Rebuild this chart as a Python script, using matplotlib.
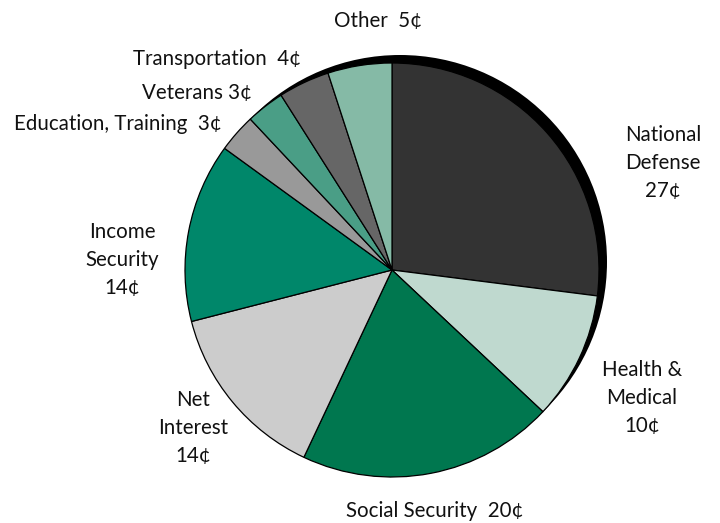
import matplotlib.pyplot as plt
from matplotlib.patches import Circle

# spending per dollar, clockwise from the top
categories = ["National Defense", "Health & Medical", "Social Security",
              "Net Interest", "Income Security", "Education, Training",
              "Veterans", "Transportation", "Other"]
cents = [27, 10, 20, 14, 14, 3, 3, 4, 5]
colors = ["#333333", "#bfd9cf", "#00774f", "#cccccc", "#00876a",
          "#999999", "#4a9e86", "#666666", "#85baa6"]

label_text = [
    "National\nDefense\n27¢",
    "Health &\nMedical\n10¢",
    "Social Security  20¢",
    "Net\nInterest\n14¢",
    "Income\nSecurity\n14¢",
    "Education, Training  3¢",
    "Veterans 3¢",
    "Transportation  4¢",
    "Other  5¢",
]
# label anchors in pixel space (x, y from top), alignment
label_pos = [
    (663, 163, "center"),
    (642, 398, "center"),
    (435, 511, "center"),
    (193, 428, "center"),
    (122, 260, "center"),
    (221, 124, "right"),
    (252, 93, "right"),
    (301, 59, "right"),
    (378, 21, "center"),
]

W, H = 720, 523
cx, cy, r = 392, 270, 207

fig = plt.figure(figsize=(7.2, 5.23), dpi=100)
ax = fig.add_axes([0, 0, 1, 1])

# drop shadow behind the pie
ax.add_patch(Circle((cx + 8, H - cy + 8), r, facecolor="black",
                    edgecolor="none", zorder=0))

ax.pie(cents, colors=colors, startangle=90, counterclock=False,
       center=(cx, H - cy), radius=r,
       wedgeprops={"edgecolor": "black", "linewidth": 0.9})

for text, (x, y, ha) in zip(label_text, label_pos):
    ax.text(x, H - y, text, ha=ha, va="center", fontsize=14.8,
            family="Lato", color="#111111", linespacing=1.52)

ax.set_xlim(0, W)
ax.set_ylim(0, H)
ax.set_aspect("equal")
ax.axis("off")

fig.savefig("out.png", dpi=100)
